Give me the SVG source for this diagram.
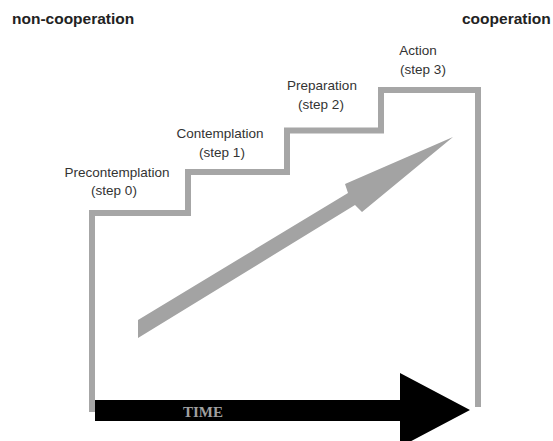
<svg xmlns="http://www.w3.org/2000/svg" width="553" height="441" viewBox="0 0 553 441">
  <style>
    .stair { fill: none; stroke: #a6a6a6; stroke-width: 6; stroke-linejoin: miter; stroke-linecap: butt; }
    .lbl { font-family: "Liberation Sans", Arial, sans-serif; font-size: 13.5px; fill: #333333; text-anchor: middle; }
    .pole { font-family: "Liberation Sans", Arial, sans-serif; font-size: 15.5px; font-weight: bold; fill: #222222; }
    .time { font-family: "Liberation Serif", "Times New Roman", serif; font-size: 15px; font-weight: bold; fill: #a0a0a0; }
  </style>
  <rect width="553" height="441" fill="#ffffff"/>

  <!-- end labels -->
  <text class="pole" x="12" y="24">non-cooperation</text>
  <text class="pole" x="462" y="24">cooperation</text>

  <!-- staircase outline -->
  <g id="staircase">
    <polyline class="stair" points="92,412 92,213 188,213 188,172 287,172 287,130.5 381,130.5 381,90 478,90 478,407"/>
  </g>

  <!-- step labels -->
  <g id="step0">
    <text class="lbl" x="117" y="177">Precontemplation</text>
    <text class="lbl" x="114" y="195">(step 0)</text>
  </g>
  <g id="step1">
    <text class="lbl" x="220" y="138">Contemplation</text>
    <text class="lbl" x="222" y="157">(step 1)</text>
  </g>
  <g id="step2">
    <text class="lbl" x="322" y="90">Preparation</text>
    <text class="lbl" x="321" y="109">(step 2)</text>
  </g>
  <g id="step3">
    <text class="lbl" x="418" y="55">Action</text>
    <text class="lbl" x="423" y="74">(step 3)</text>
  </g>

  <!-- rising progress arrow -->
  <g id="progress">
    <polygon fill="#a3a3a3" points="138,320 348,193 345,184 453,137 362,212 355,205 138,338"/>
  </g>

  <!-- time axis -->
  <g id="time-axis">
    <polygon fill="#000000" points="95,400 400,400 400,373 470,410 400,447 400,421 95,421"/>
    <text class="time" x="183" y="417">TIME</text>
  </g>
</svg>
